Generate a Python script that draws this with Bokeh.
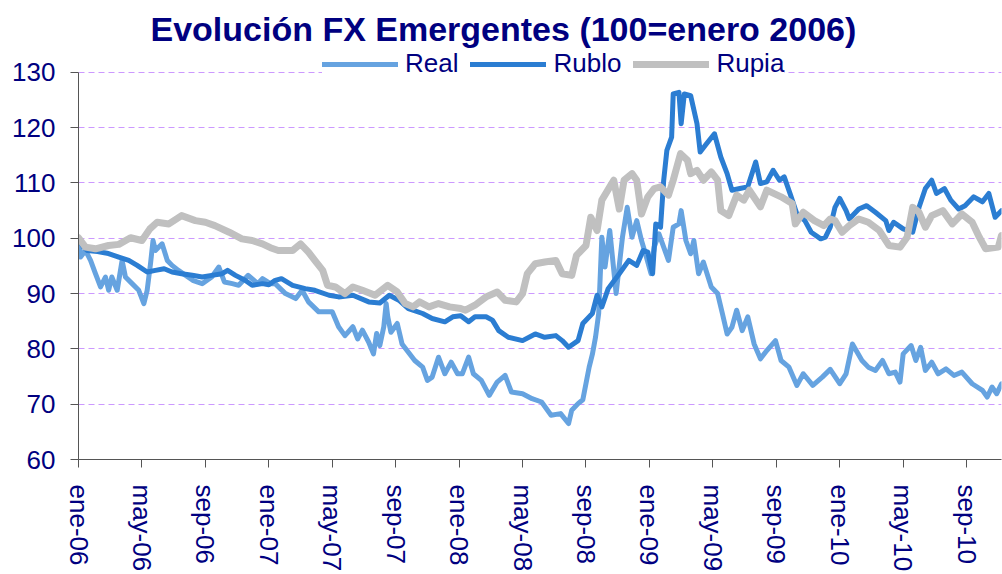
from bokeh.plotting import figure
from bokeh.models import FixedTicker, Legend, LegendItem, Range1d
from bokeh.embed import file_html
from bokeh.resources import INLINE

# time axis: months elapsed since ene-06
tick_pos = [0, 4, 8, 12, 16, 20, 24, 28, 32, 36, 40, 44, 48, 52, 56]
tick_labels = ["ene-06", "may-06", "sep-06", "ene-07", "may-07", "sep-07", "ene-08",
               "may-08", "sep-08", "ene-09", "may-09", "sep-09", "ene-10", "may-10", "sep-10"]
y_ticks = [60, 70, 80, 90, 100, 110, 120, 130]

real_t = [0, 0.13, 0.44, 0.76, 1.07, 1.39, 1.7, 1.9, 2.1, 2.44, 2.75, 2.96, 3.38, 3.8, 4.12,
          4.33, 4.54, 4.7, 4.85, 5.27, 5.6, 5.9, 6.3, 7.2, 7.8, 8.4, 8.85, 9.2, 9.7, 10.1,
          10.7, 11.3, 11.6, 12.1, 12.4, 13.05, 13.7, 14.1, 14.5, 15.15, 16.0, 16.4, 16.8,
          17.3, 17.6, 17.9, 18.3, 18.6, 18.8, 19.0, 19.25, 19.4, 19.5, 19.7, 20.1, 20.4,
          20.8, 21.2, 21.7, 22.0, 22.3, 22.7, 23.1, 23.5, 23.9, 24.2, 24.6, 24.9, 25.4,
          25.9, 26.4, 26.9, 27.3, 28.0, 28.6, 29.2, 29.8, 30.4, 30.9, 31.1, 31.5, 31.8,
          32.2, 32.4, 32.6, 32.8, 33.0, 33.2, 33.5, 33.9, 34.3, 34.6, 34.9, 35.2, 35.5,
          35.75, 36.1, 36.3, 36.6, 36.9, 37.2, 37.5, 37.86, 38.0, 38.3, 38.6, 38.8, 39.1,
          39.4, 39.9, 40.3, 40.6, 40.9, 41.2, 41.5, 41.85, 42.2, 42.6, 43.0, 43.4, 43.95,
          44.3, 44.8, 45.3, 45.7, 46.3, 46.9, 47.4, 48.0, 48.4, 48.8, 49.1, 49.4, 49.8,
          50.25, 50.7, 51.1, 51.5, 51.8, 52.0, 52.5, 52.8, 53.1, 53.4, 53.8, 54.2, 54.7,
          55.2, 55.7, 56.35, 57.0, 57.3, 57.6, 57.9, 58.2]
real_v = [99.6, 96.6, 97.8, 96.0, 93.6, 91.2, 93.0, 90.6, 93.0, 90.6, 96.0, 93.0, 91.8, 90.6,
          88.2, 90.6, 95.4, 99.6, 97.8, 99.0, 96.0, 95.1, 94.2, 92.4, 91.8, 93.0, 94.8, 92.1,
          91.8, 91.5, 93.3, 91.8, 92.7, 91.8, 91.8, 90.0, 89.1, 90.6, 88.5, 86.7, 86.7, 84.0,
          82.4, 84.0, 81.8, 83.4, 81.2, 79.1, 82.8, 80.6, 84.0, 88.2, 85.8, 83.0, 84.6, 80.9,
          79.4, 77.9, 76.7, 74.3, 74.9, 78.5, 75.5, 77.6, 75.5, 75.5, 78.5, 75.5, 74.3, 71.6,
          74.0, 75.2, 72.2, 71.9, 71.0, 70.4, 68.0, 68.3, 66.5, 68.9, 70.1, 70.8, 76.7, 79.0,
          82.1, 86.4, 100.2, 94.8, 101.4, 90.0, 100.2, 105.6, 100.2, 103.2, 99.6, 97.2, 93.6,
          98.4, 100.8, 98.4, 96.0, 102.0, 102.6, 105.0, 99.6, 97.2, 99.6, 93.6, 95.7, 91.2,
          90.0, 86.4, 82.7, 83.9, 87.0, 83.3, 85.8, 80.9, 78.2, 79.7, 81.5, 77.9, 76.7, 73.4,
          75.5, 73.4, 74.9, 76.3, 73.7, 75.5, 80.9, 79.4, 77.9, 76.7, 76.1, 77.9, 75.5, 75.8,
          74.0, 79.1, 80.6, 77.9, 80.3, 76.1, 77.6, 75.5, 76.4, 75.2, 75.8, 73.7, 72.5, 71.3,
          73.1, 71.9, 73.7]

rublo_t = [0, 0.3, 0.55, 1.2, 1.8, 2.54, 3.17, 3.7, 4.33, 4.85, 5.4, 5.9, 6.5, 7.17, 7.8, 8.4,
           9.06, 9.4, 9.9, 10.5, 10.95, 11.6, 12.0, 12.4, 12.8, 13.5, 14.3, 14.9, 15.8, 16.4,
           17.3, 18.3, 19.0, 19.6, 20.2, 20.8, 21.7, 22.3, 23.1, 23.6, 24.1, 24.6, 25.0, 25.7,
           26.1, 26.5, 27.1, 28.0, 28.8, 29.4, 30.1, 30.5, 30.9, 31.5, 31.8, 32.4, 32.7, 33.0,
           33.4, 34.1, 34.7, 35.2, 35.6, 35.9, 36.2, 36.4, 36.7, 36.9, 37.1, 37.4, 37.5, 37.86,
           38.0, 38.2, 38.6, 39.0, 39.2, 39.6, 40.1, 40.5, 40.9, 41.2, 41.7, 42.2, 42.7, 43.0,
           43.4, 43.8, 44.2, 44.5, 44.9, 45.3, 45.8, 46.2, 46.8, 47.1, 47.4, 47.7, 48.0, 48.4,
           48.6, 49.2, 49.7, 50.25, 50.9, 51.1, 51.4, 52.0, 52.6, 53.0, 53.4, 53.8, 54.1, 54.6,
           55.0, 55.5, 55.9, 56.45, 57.0, 57.4, 57.8, 58.2]
rublo_v = [99.9, 98.5, 97.8, 97.6, 97.3, 96.6, 96.0, 95.1, 93.9, 94.2, 94.5, 93.9, 93.6, 93.3,
           93.0, 93.3, 93.6, 94.2, 93.3, 92.4, 91.5, 91.8, 91.6, 92.4, 92.7, 91.5, 90.9, 90.6,
           89.7, 89.4, 89.7, 88.5, 88.3, 89.7, 88.8, 87.3, 86.4, 85.5, 84.9, 85.8, 86.0, 84.9,
           85.8, 85.8, 85.2, 83.3, 82.1, 81.5, 82.7, 82.1, 82.4, 81.5, 80.3, 81.5, 84.6, 86.4,
           89.7, 87.6, 90.9, 93.6, 96.0, 95.1, 97.8, 97.5, 93.6, 102.6, 102.0, 110.5, 115.9,
           118.3, 126.1, 126.4, 120.7, 126.1, 125.8, 120.7, 115.6, 117.1, 118.9, 114.7, 111.7,
           108.7, 109.0, 109.3, 113.8, 109.9, 110.2, 112.3, 110.5, 111.1, 107.8, 104.4, 103.2,
           101.1, 99.9, 100.2, 102.0, 105.6, 107.2, 105.0, 103.5, 105.3, 105.9, 104.7, 103.2,
           101.4, 102.9, 101.7, 101.1, 105.6, 109.0, 110.5, 108.1, 109.0, 106.9, 105.3, 105.9,
           107.5, 106.6, 108.1, 103.8, 105.0]

rupia_t = [0, 0.44, 1.07, 1.9, 2.54, 3.28, 4.0, 4.5, 4.96, 5.7, 6.5, 7.37, 8.0, 8.6, 9.5, 10.3,
           10.95, 11.6, 12.1, 12.6, 13.5, 14.0, 14.5, 14.9, 15.4, 15.7, 16.2, 16.8, 17.3, 17.9,
           18.7, 19.5, 20.1, 20.6, 21.1, 21.5, 22.1, 22.7, 23.4, 24.1, 24.4, 25.0, 25.7, 26.4,
           26.9, 27.6, 28.0, 28.3, 28.8, 29.4, 30.1, 30.5, 31.1, 31.4, 32.0, 32.3, 32.7, 33.0,
           33.5, 33.75, 34.1, 34.4, 34.9, 35.2, 35.5, 35.9, 36.3, 36.7, 37.2, 37.5, 37.96, 38.4,
           38.6, 39.0, 39.4, 39.9, 40.3, 40.5, 41.0, 41.5, 41.95, 42.3, 43.0, 43.4, 44.3, 45.0,
           45.2, 45.7, 46.4, 47.0, 47.4, 47.7, 48.15, 48.6, 49.2, 49.8, 50.5, 51.1, 51.8, 52.25,
           52.6, 53.0, 53.4, 53.8, 54.5, 55.1, 55.7, 56.35, 56.8, 57.2, 58.0, 58.2]
rupia_v = [100.1, 98.4, 98.1, 98.7, 98.9, 100.1, 99.6, 101.7, 102.9, 102.6, 104.1, 103.2, 102.9,
           102.3, 101.1, 99.9, 99.6, 99.0, 98.3, 97.8, 97.8, 99.0, 97.5, 96.0, 94.2, 91.5, 91.2,
           90.0, 91.2, 90.6, 89.7, 91.5, 90.3, 88.2, 87.6, 88.5, 87.6, 88.2, 87.6, 87.3, 87.0,
           87.9, 89.4, 90.3, 88.8, 88.5, 90.0, 93.6, 95.4, 95.7, 96.0, 93.6, 93.3, 96.9, 98.7,
           103.8, 101.4, 106.9, 109.3, 110.5, 105.3, 110.5, 111.7, 110.5, 104.4, 107.5, 109.0,
           109.3, 107.8, 110.5, 115.3, 114.1, 111.7, 112.3, 110.5, 112.0, 110.5, 105.0, 104.1,
           107.8, 106.9, 108.7, 105.7, 108.7, 107.5, 106.3, 102.6, 104.7, 103.2, 102.3, 103.5,
           103.2, 101.1, 102.3, 103.5, 102.9, 101.4, 98.7, 98.4, 100.2, 105.6, 104.7, 102.0,
           104.1, 105.0, 102.6, 104.4, 102.9, 100.2, 98.1, 98.4, 100.5]

NAVY = "#000080"
FONT = "Liberation Sans"

# extra headroom above 130 holds the legend inside the plot frame
p = figure(width=1002, height=574, output_backend="svg", toolbar_location=None,
           x_range=Range1d(0, 58.2), y_range=Range1d(60, 134.5),
           min_border_left=78, min_border_right=1, min_border_top=47, min_border_bottom=115,
           title="Evolución FX Emergentes (100=enero 2006)")
p.outline_line_color = None
p.background_fill_color = "white"
p.border_fill_color = "white"

p.title.align = "left"
p.title.offset = 72
p.title.standoff = 0
p.title.text_font = FONT
p.title.text_font_size = "34px"
p.title.text_font_style = "bold"
p.title.text_color = NAVY

r1 = p.line(real_t, real_v, line_color="#66A3E0", line_width=5, line_join="round", line_cap="round")
r2 = p.line(rublo_t, rublo_v, line_color="#2B7DD2", line_width=5, line_join="round", line_cap="round")
r3 = p.line(rupia_t, rupia_v, line_color="#C0C0C0", line_width=7, line_join="round", line_cap="round")

p.xgrid.visible = False
p.ygrid.grid_line_color = "#CC99FF"
p.ygrid.grid_line_dash = "6 4"
p.ygrid.grid_line_width = 1
p.ygrid.grid_line_alpha = 1.0

p.yaxis.ticker = FixedTicker(ticks=y_ticks)
p.yaxis.bounds = (y_ticks[0], y_ticks[-1])
p.xaxis.ticker = FixedTicker(ticks=tick_pos)
p.xaxis.major_label_overrides = {t: l for t, l in zip(tick_pos, tick_labels)}
p.xaxis.major_label_orientation = "vertical"

for ax in (p.xaxis, p.yaxis):
    ax.axis_line_color = "#555555"
    ax.major_tick_line_color = "#555555"
    ax.major_tick_out = 8
    ax.major_tick_in = 0
    ax.minor_tick_line_color = None
    ax.major_label_text_font = FONT
    ax.major_label_text_font_size = "26px"
    ax.major_label_text_color = NAVY
p.yaxis.major_label_standoff = 15
p.xaxis.major_label_standoff = 17

legend = Legend(items=[LegendItem(label="Real", renderers=[r1]),
                       LegendItem(label="Rublo", renderers=[r2]),
                       LegendItem(label="Rupia", renderers=[r3])],
                location=(244, 380), orientation="horizontal",
                glyph_width=76, glyph_height=26, label_height=26, label_standoff=7,
                spacing=12, padding=0, margin=0,
                label_text_font=FONT, label_text_font_size="26px", label_text_color=NAVY,
                border_line_color=None, background_fill_color="white", background_fill_alpha=1)
p.add_layout(legend, "center")

open("out.html", "w").write(file_html(p, INLINE))
